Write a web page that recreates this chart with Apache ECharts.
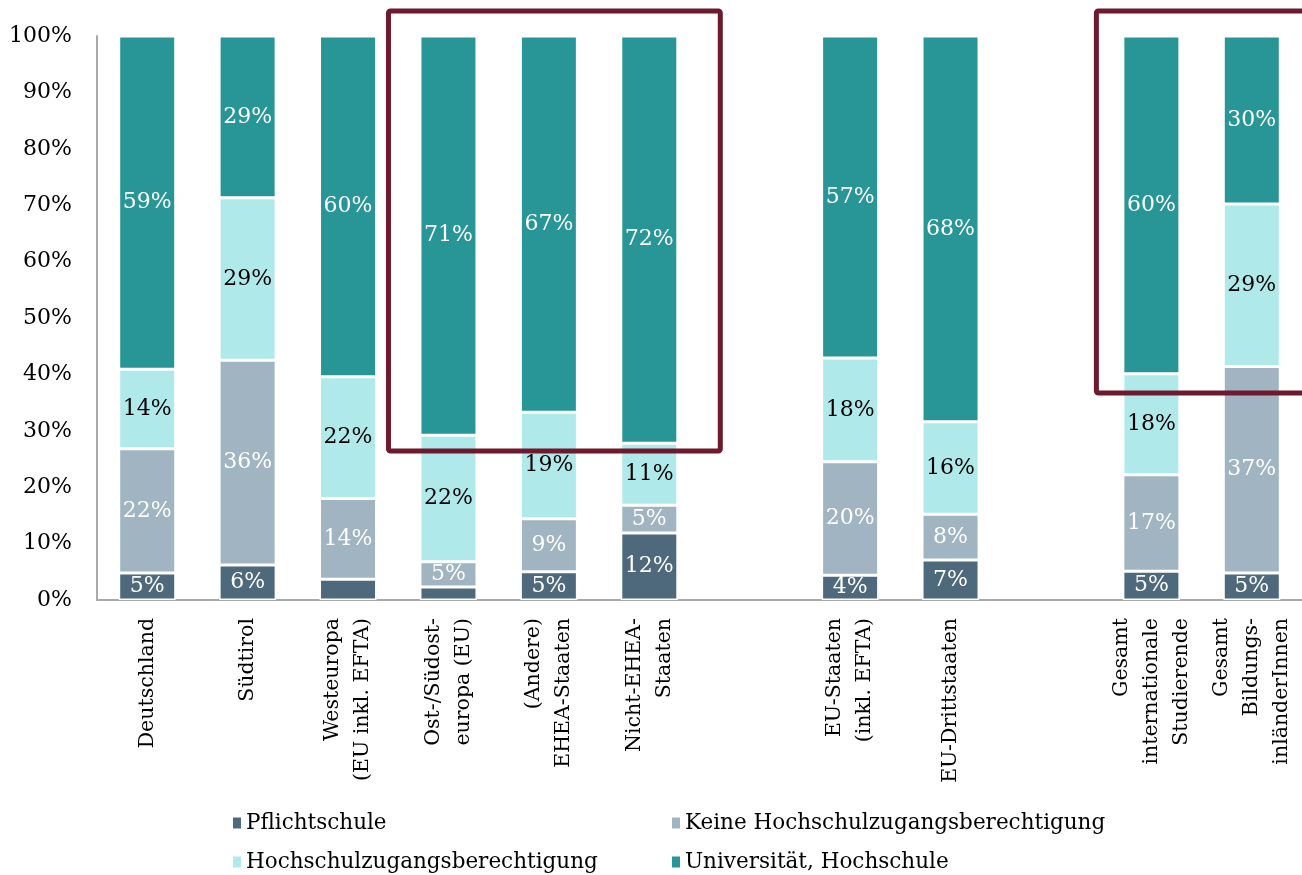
<!DOCTYPE html>
<html>
<head>
<meta charset="utf-8">
<script src="https://cdn.jsdelivr.net/npm/echarts@6/dist/echarts.min.js"></script>
<style>
  html, body { margin: 0; padding: 0; background: #fff; }
  #main { width: 1302px; height: 875px; }
</style>
</head>
<body>
<div id="main"></div>
<script>
// Kategorien (leere Einträge = Lücken zwischen den Gruppen)
var categories = [
  'Deutschland',
  'Südtirol',
  'Westeuropa\n(EU inkl. EFTA)',
  'Ost-/Südost-\neuropa (EU)',
  '(Andere)\nEHEA-Staaten',
  'Nicht-EHEA-\nStaaten',
  '',
  'EU-Staaten\n(inkl. EFTA)',
  'EU-Drittstaaten',
  '',
  'Gesamt\ninternationale\nStudierende',
  'Gesamt\nBildungs-\ninländerInnen'
];

var seriesNames = [
  'Pflichtschule',
  'Keine Hochschulzugangsberechtigung',
  'Hochschulzugangsberechtigung',
  'Universität, Hochschule'
];

// Anteile in %
var pflichtschule   = [4.8, 6.2, 3.7, 2.3, 5.0, 11.9, null, 4.4, 7.1, null, 5.1, 4.8];
var keineHZB        = [22.0, 36.3, 14.3, 4.5, 9.4, 4.9, null, 20.1, 8.1, null, 17.1, 36.6];
var hzb             = [14.1, 28.8, 21.6, 22.4, 18.9, 11.0, null, 18.4, 16.4, null, 17.9, 28.8];
var universitaet    = [59.1, 28.7, 60.4, 70.8, 66.7, 72.2, null, 57.1, 68.4, null, 59.9, 29.8];

// Rahmen (Hervorhebung): erste/letzte Kategorie, unterer Wert
var box1 = [3, 5, 26.4];
var box2 = [10, 11, 36.7];

var colors = ['#4e697b', '#a0b4c1', '#b0e9ea', '#289596'];
var labelColors = ['#fff', '#fff', '#000', '#fff'];
var serif = 'DejaVu Serif';

var chart = echarts.init(document.getElementById('main'));

function makeSeries(i, values) {
  return {
    name: seriesNames[i],
    type: 'bar',
    stack: 'total',
    barWidth: 57,
    data: values,
    itemStyle: { color: colors[i], borderColor: '#fff', borderWidth: 1.5 },
    label: {
      show: true,
      position: 'inside',
      color: labelColors[i],
      fontFamily: serif,
      fontSize: 22,
      formatter: function (p) {
        if (p.value == null || p.value < 4) return '';
        return Math.round(p.value) + '%';
      }
    },
    emphasis: { disabled: true }
  };
}

function legendItem(i, left, top) {
  return {
    data: [seriesNames[i]],
    left: left,
    top: top,
    icon: 'rect',
    itemWidth: 10,
    itemHeight: 13,
    itemGap: 6,
    selectedMode: false,
    textStyle: { fontFamily: serif, fontSize: 21.5, color: '#000', padding: [0, 0, 0, -1] }
  };
}

var option = {
  animation: false,
  grid: { left: 97, top: 36, width: 1210, height: 564, containLabel: false },
  legend: [
    legendItem(0, 226, 807),
    legendItem(1, 665, 807),
    legendItem(2, 226, 846),
    legendItem(3, 665, 846)
  ],
  xAxis: {
    type: 'category',
    data: categories,
    axisLine: { lineStyle: { color: '#a9a9a9', width: 2 } },
    axisTick: { show: false },
    axisLabel: {
      interval: 0,
      rotate: 90,
      margin: 18,
      fontFamily: serif,
      fontSize: 20.5,
      lineHeight: 30,
      color: '#000'
    }
  },
  yAxis: {
    type: 'value',
    min: 0,
    max: 100,
    interval: 10,
    axisLine: { show: true, lineStyle: { color: '#a9a9a9', width: 2 } },
    axisTick: { show: false },
    splitLine: { show: false },
    axisLabel: {
      margin: 25,
      fontFamily: serif,
      fontSize: 22,
      color: '#000',
      formatter: '{value}%'
    }
  },
  series: [
    makeSeries(0, pflichtschule),
    makeSeries(1, keineHZB),
    makeSeries(2, hzb),
    makeSeries(3, universitaet)
  ]
};

chart.setOption(option);

// Hervorhebungsrahmen aus Achsenkoordinaten berechnen
function boxRect(b, padLeft, padRight) {
  var a = chart.convertToPixel({ gridIndex: 0 }, [b[0], b[2]]);
  var c = chart.convertToPixel({ gridIndex: 0 }, [b[1], 100]);
  var x0 = a[0] - padLeft;
  var x1 = c[0] + padRight;
  var y0 = c[1] - 25;
  return {
    type: 'rect',
    shape: { x: x0, y: y0, width: x1 - x0, height: a[1] - y0, r: 2 },
    style: { fill: 'none', stroke: '#6d1a2f', lineWidth: 5 },
    z: 100
  };
}

chart.setOption({
  graphic: [
    boxRect(box1, 60, 71),
    boxRect(box2, 55, 60)
  ]
});
</script>
</body>
</html>
